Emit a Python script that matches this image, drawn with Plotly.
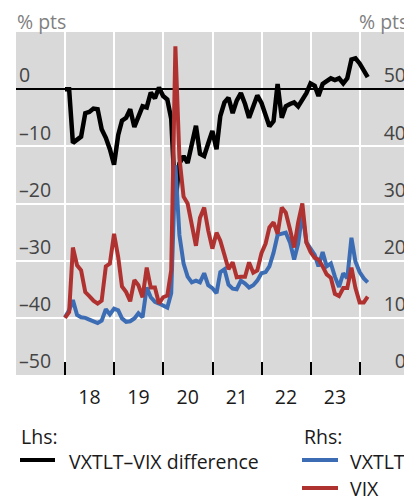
import pandas as pd
import plotly.graph_objects as go

# monthly observations, Dec 2017 to Feb 2024 (month end)
dates = pd.date_range("2017-12-01", periods=75, freq="MS") + pd.offsets.MonthEnd(0)

diff = [0, 0, -9.4, -8.9, -8.3, -4.2, -4.0, -3.4, -3.5, -7.0,
        -8.5, -10.5, -13.2, -8.0, -5.5, -5.0, -3.5, -6.6, -4.8, -3.0,
        -3.2, -0.6, -1.6, 0.3, -1.2, -1.8, -5.2, -19.8, -13.0, -11.7,
        -12.9, -9.6, -6.4, -11.3, -11.7, -9.5, -7.3, -10.5, -4.7, -2.3,
        -1.5, -4.2, -2.0, -0.7, -2.6, -5.0, -3.0, -1.1, -2.4, -4.5,
        -6.5, -5.6, 0.9, -5.0, -3.0, -2.6, -2.3, -3.0, -1.8, -0.7,
        1.0, 0.6, -1.2, 0.9, 1.4, 1.9, 1.6, 1.9, 1.0, 1.9,
        5.2, 5.4, 4.5, 3.1, 2.1]

vxtlt = [10.1, 11.3, 13.1, 10.5, 10.1, 10.0, 9.7, 9.4, 9.1, 9.5,
         11.5, 10.6, 11.6, 11.3, 9.9, 9.3, 9.4, 9.9, 10.8, 10.1,
         15.3, 13.6, 12.8, 12.5, 12.2, 11.8, 14.3, 36.7, 24.5, 19.5,
         17.2, 16.2, 16.5, 16.2, 17.8, 15.7, 15.2, 14.3, 18.0, 18.5,
         15.8, 15.1, 15.0, 16.5, 16.0, 15.3, 15.7, 16.5, 17.8, 18.0,
         19.0, 21.4, 24.5, 24.7, 24.9, 23.2, 20.2, 23.0, 28.4, 23.2,
         22.2, 21.0, 19.0, 21.5, 19.0, 19.5, 17.2, 15.4, 17.8, 16.9,
         24.0, 19.8, 18.0, 16.9, 16.2]

vix = [10.0, 11.0, 22.3, 19.2, 18.3, 14.5, 13.8, 13.0, 12.5, 13.0,
       19.0, 19.5, 24.7, 20.6, 15.5, 14.5, 12.9, 16.6, 15.7, 13.6,
       18.8, 15.3, 15.3, 12.5, 13.6, 13.9, 18.3, 57.5, 38.0, 31.2,
       30.0, 25.8, 22.6, 27.5, 29.3, 25.3, 22.1, 24.9, 23.5, 21.0,
       18.5, 19.7, 17.1, 17.2, 17.2, 19.7, 17.9, 18.3, 21.3, 23.0,
       25.8, 26.7, 24.7, 29.3, 28.4, 25.5, 22.3, 26.7, 30.0, 23.2,
       21.5, 20.5, 20.2, 19.0, 17.6, 17.0, 14.2, 13.8, 15.2, 15.2,
       18.8, 15.2, 12.7, 12.7, 13.7]

years = [2018, 2019, 2020, 2021, 2022, 2023]
year_labels = ["18", "19", "20", "21", "22", "23"]

FONT = "Open Sans"
FS = 19.5
BLACK = "black"
BLUE = "#3c6db4"
RED = "#b03230"

# the page body adds an 8px margin, so the figure is shrunk by that much
OFF = 8
W, H = 412 - OFF, 503 - OFF
# plot area in page pixels
L, R, T, B = 16, 409, 32, 375


def px_x(px):
    return (px - L) / (R - L)


def px_y(py):
    return (B - py) / (B - T)


trace_vxtlt = go.Scatter(x=dates, y=vxtlt, name="VXTLT", yaxis="y2",
                         mode="lines", line=dict(color=BLUE, width=4))
trace_vix = go.Scatter(x=dates, y=vix, name="VIX", yaxis="y2",
                       mode="lines", line=dict(color=RED, width=4))
trace_diff = go.Scatter(x=dates, y=diff, name="VXTLT\u2013VIX difference",
                        mode="lines", line=dict(color=BLACK, width=4.5))

legend_keys = [
    (20, 55, 460, BLACK, 67, 461, "VXTLT\u2013VIX difference"),
    (302, 338, 460, BLUE, 348, 461, "VXTLT"),
    (302, 338, 488, RED, 348, 488, "VIX"),
]

shapes = []
annotations = [
    dict(text="% pts", x=0, y=px_y(21.5), xanchor="left", yanchor="middle",
         borderpad=0, font=dict(size=FS, color="#808080")),
    dict(text="% pts", x=1, y=px_y(21.5), xanchor="right", yanchor="middle",
         borderpad=0, font=dict(size=FS, color="#808080")),
    dict(text="Lhs:", x=px_x(19), y=px_y(437), xanchor="left", yanchor="middle"),
    dict(text="Rhs:", x=px_x(302), y=px_y(437), xanchor="left", yanchor="middle"),
]
for x0, x1, yl, col, xt, yt, label in legend_keys:
    shapes.append(dict(type="line", xref="paper", yref="paper",
                       x0=px_x(x0), x1=px_x(x1), y0=px_y(yl), y1=px_y(yl),
                       line=dict(color=col, width=4)))
    annotations.append(dict(text=label, x=px_x(xt), y=px_y(yt),
                            xanchor="left", yanchor="middle"))
for a in annotations:
    a.update(xref="paper", yref="paper", showarrow=False)

layout = go.Layout(
    width=W, height=H,
    margin=dict(l=L - OFF, r=W - (R - OFF), t=T - OFF, b=H - (B - OFF),
                autoexpand=False),
    paper_bgcolor="white",
    plot_bgcolor="#d9d9d9",
    font=dict(family=FONT, size=FS, color="#1a1a1a"),
    showlegend=False,
    xaxis=dict(
        range=["2017-01-01", "2025-01-01"],
        tickvals=[f"{y}-07-01" for y in years],
        ticktext=year_labels,
        ticks="", showgrid=False, zeroline=False,
        ticklabelstandoff=8,
        minor=dict(tickvals=[f"{y}-01-01" for y in range(2018, 2025)],
                   ticks="inside", ticklen=13, tickcolor="black", tickwidth=1.5,
                   showgrid=True, gridcolor="white", gridwidth=1.5),
    ),
    yaxis=dict(
        range=[-50, 10],
        tickvals=[-50, -40, -30, -20, -10, 0],
        ticktext=["\u201350", "\u201340", "\u201330", "\u201320", "\u201310", "0"],
        ticklabelposition="inside top",
        showgrid=True, gridcolor="white", gridwidth=1.5,
        zeroline=True, zerolinecolor="black", zerolinewidth=1.5,
        ticks="",
    ),
    yaxis2=dict(
        range=[0, 60],
        tickvals=[0, 10, 20, 30, 40, 50],
        overlaying="y", side="right",
        ticklabelposition="inside top",
        showgrid=False, zeroline=False, ticks="",
    ),
    shapes=shapes,
    annotations=annotations,
)

fig = go.Figure(data=[trace_vxtlt, trace_vix, trace_diff], layout=layout)
fig.write_html("out.html")
